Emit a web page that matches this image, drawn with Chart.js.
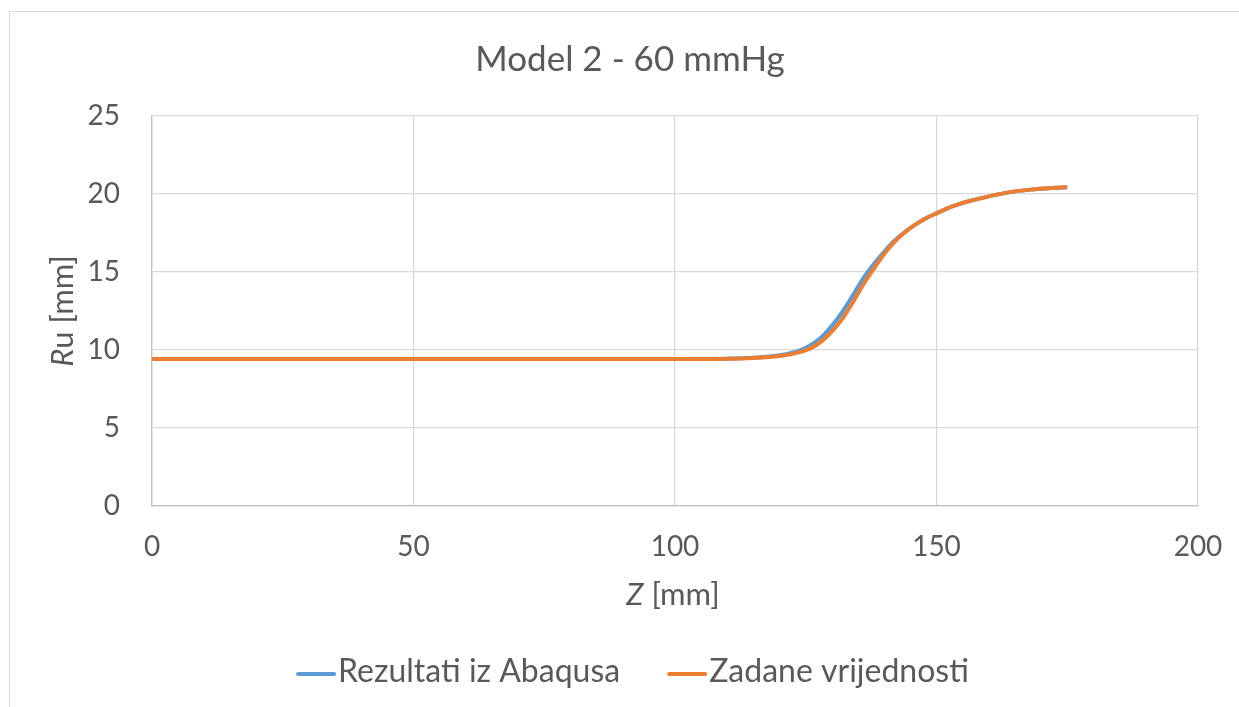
<!DOCTYPE html>
<html>
<head>
<meta charset="utf-8">
<title>Model 2 - 60 mmHg</title>
<script src="https://cdn.jsdelivr.net/npm/chart.js@4.4.0/dist/chart.umd.min.js"></script>
<style>
  html, body { margin: 0; padding: 0; background: #fff; }
  #wrap { position: relative; width: 1239px; height: 707px; overflow: hidden; }
  #frame { position: absolute; left: 9px; top: 11px; width: 1300px; height: 800px; border: 1px solid #d9d9d9; box-sizing: border-box; }
  #chart { position: absolute; left: 0; top: 0; }
</style>
</head>
<body>
<div id="wrap">
  <div id="frame"></div>
  <canvas id="chart" width="1239" height="707"></canvas>
</div>
<script>
// Z positions [mm]
const zValues = [0, 100, 110, 115, 118, 120, 122, 124, 126, 128, 130, 132, 134, 136, 138, 140, 142, 144, 146, 148, 150, 153, 156, 160, 164, 168, 172, 175];
// Ru from Abaqus results
const abaqusR = [9.42, 9.42, 9.44, 9.5, 9.58, 9.66, 9.8, 10.0, 10.32, 10.82, 11.55, 12.45, 13.5, 14.6, 15.5, 16.3, 17.02, 17.58, 18.05, 18.45, 18.76, 19.2, 19.52, 19.85, 20.12, 20.28, 20.38, 20.43];
// Ru prescribed values
const zadaneR = [9.42, 9.42, 9.44, 9.49, 9.55, 9.62, 9.72, 9.88, 10.12, 10.55, 11.2, 12.0, 13.05, 14.2, 15.2, 16.15, 16.95, 17.55, 18.05, 18.45, 18.76, 19.2, 19.52, 19.85, 20.12, 20.28, 20.38, 20.43];
const xTicks = [0, 50, 100, 150, 200];
const yTicks = [0, 5, 10, 15, 20, 25];

const seriesNames = ['Rezultati iz Abaqusa', 'Zadane vrijednosti'];
const seriesColors = ['#5b9bd5', '#ed7d31'];

const TEXT = '#595959';
const FONT = 'Lato, "Open Sans", sans-serif';

function points(ys) {
  return zValues.map((z, i) => ({ x: z, y: ys[i] }));
}

// draws a run of text pieces with different styles, centred at cx
function drawMixed(ctx, parts, cx, cy, size) {
  let total = 0;
  parts.forEach(p => {
    ctx.font = p[0] + size + 'px ' + FONT;
    total += ctx.measureText(p[1]).width;
  });
  let x = cx - total / 2;
  ctx.textAlign = 'left';
  ctx.textBaseline = 'middle';
  parts.forEach(p => {
    ctx.font = p[0] + size + 'px ' + FONT;
    ctx.fillText(p[1], x, cy);
    x += ctx.measureText(p[1]).width;
  });
}

const extras = {
  id: 'extras',
  afterDraw(chart) {
    const ctx = chart.ctx;
    ctx.save();
    ctx.fillStyle = TEXT;

    // axis titles
    drawMixed(ctx, [['italic ', 'Z'], ['', ' [mm]']], 673, 595, 31);
    ctx.save();
    ctx.translate(63, 311);
    ctx.rotate(-Math.PI / 2);
    drawMixed(ctx, [['italic ', 'R'], ['', 'u [mm]']], 0, 0, 31);
    ctx.restore();

    // legend
    ctx.font = '32px ' + FONT;
    const lineLen = 38, gap = 3, itemGap = 48;
    const widths = seriesNames.map(n => ctx.measureText(n).width);
    const total = widths.reduce((a, w) => a + lineLen + gap + w, 0) + itemGap;
    let x = 633 - total / 2;
    ctx.textAlign = 'left';
    ctx.textBaseline = 'middle';
    seriesNames.forEach((n, i) => {
      ctx.strokeStyle = seriesColors[i];
      ctx.lineWidth = 4;
      ctx.lineCap = 'round';
      ctx.beginPath();
      ctx.moveTo(x + 1, 674);
      ctx.lineTo(x + lineLen - 1, 674);
      ctx.stroke();
      ctx.fillText(n, x + lineLen + gap, 672);
      x += lineLen + gap + widths[i] + itemGap;
    });
    ctx.restore();
  }
};

new Chart(document.getElementById('chart'), {
  type: 'line',
  data: {
    datasets: [
      {
        label: seriesNames[0],
        data: points(abaqusR),
        borderColor: seriesColors[0],
        backgroundColor: seriesColors[0],
        borderWidth: 4,
        pointRadius: 0,
        cubicInterpolationMode: 'monotone',
        order: 2
      },
      {
        label: seriesNames[1],
        data: points(zadaneR),
        borderColor: seriesColors[1],
        backgroundColor: seriesColors[1],
        borderWidth: 4,
        pointRadius: 0,
        cubicInterpolationMode: 'monotone',
        order: 1
      }
    ]
  },
  options: {
    responsive: false,
    animation: false,
    layout: { padding: { top: 0, right: 41, bottom: 0, left: 62 } },
    plugins: {
      legend: { display: false },
      tooltip: { enabled: false },
      title: {
        display: true,
        text: 'Model 2 - 60 mmHg',
        color: TEXT,
        font: { family: FONT, size: 35, weight: 'normal' },
        padding: { top: 39, bottom: 35 }
      }
    },
    scales: {
      x: {
        type: 'linear',
        min: 0,
        max: 200,
        afterBuildTicks: s => { s.ticks = xTicks.map(v => ({ value: v })); },
        afterFit: s => { s.height = 201; s.paddingLeft = 0; s.paddingRight = 0; },
        ticks: { color: TEXT, font: { family: FONT, size: 28 }, padding: 24 },
        grid: { color: '#d9d9d9', lineWidth: 1.3, drawTicks: false },
        border: { color: '#bfbfbf', width: 1.3 }
      },
      y: {
        min: 0,
        max: 25,
        afterBuildTicks: s => { s.ticks = yTicks.map(v => ({ value: v })); },
        afterFit: s => { s.width = 90; },
        ticks: { color: TEXT, font: { family: FONT, size: 28 }, padding: 32 },
        grid: { color: '#d9d9d9', lineWidth: 1.3, drawTicks: false },
        border: { color: '#bfbfbf', width: 1.3 }
      }
    }
  },
  plugins: [extras]
});
</script>
</body>
</html>
